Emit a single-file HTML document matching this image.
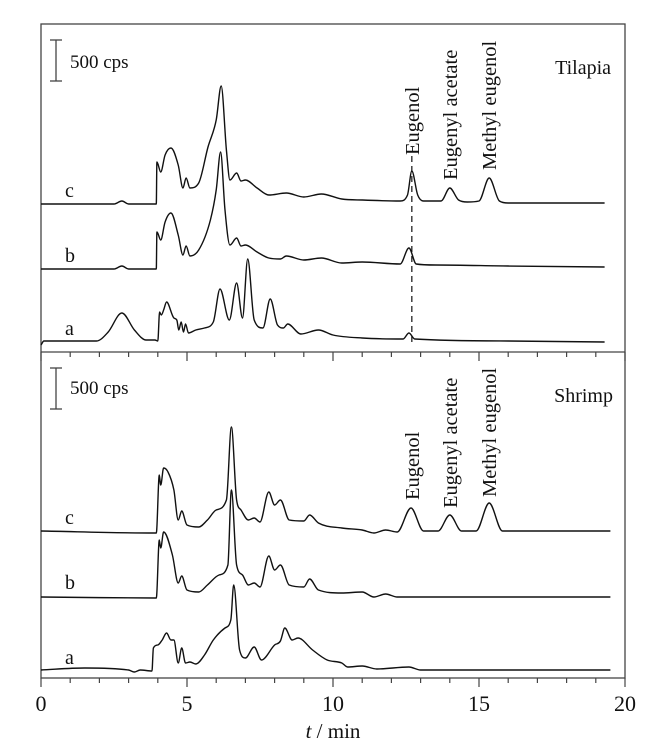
<!DOCTYPE html>
<html><head><meta charset="utf-8"><style>
html,body{margin:0;padding:0;background:#fff;}
svg{display:block;font-family:"Liberation Serif",serif;}
</style></head><body>
<svg id="chart" width="666" height="740" viewBox="0 0 666 740">
<g id="frame"></g>
<g id="traces"></g>
<g id="labels"></g>
</svg>
<script>
// time axis
const xTicksMajor = [0, 5, 10, 15, 20];
// Tilapia panel series (time in min, signal height in px-units; 41 units = 500 cps)
const tilC_t = [0,2.5,2.77,3.0,3.95,3.97,4.1,4.25,4.45,4.7,4.86,4.97,5.1,5.4,5.72,6.0,6.17,6.35,6.47,6.7,6.85,7.0,7.4,7.8,8.4,9.0,9.6,10.3,11,12.3,12.55,12.7,12.9,13.1,13.7,14.0,14.3,14.6,15.0,15.35,15.7,16,19.3];
const tilC_v = [0,0,3,0,0,42,32,49,56,39,16,26,16,21,57,84,118,54,24,31,23,24,16,9,11,7,10,5,4,3,9,33,9,3,3,16,4,2,3,26,3,1,1];
const tilB_t = [0,2.5,2.77,3.0,3.95,3.97,4.1,4.25,4.45,4.7,4.86,4.97,5.1,5.4,5.8,6.0,6.15,6.3,6.47,6.7,6.85,7.0,7.4,7.8,8.2,8.4,9.0,9.6,10.3,11,12.3,12.6,12.85,13.5,16,19.3];
const tilB_v = [0,0,3,0,0,37,29,47,56,34,14,23,13,19,49,79,117,59,24,31,23,24,17,11,10,13,9,11,6,7,5,21,5,4,3,2];
const tilA_t = [0,0.1,1.9,2.3,2.77,3.2,3.6,3.9,4.0,4.06,4.12,4.2,4.3,4.55,4.65,4.72,4.8,4.88,4.95,5.05,5.3,5.6,5.9,6.13,6.45,6.7,6.9,7.08,7.3,7.6,7.85,8.1,8.3,8.45,8.9,9.5,10.0,11,12.4,12.6,12.8,16,19.3];
const tilA_v = [-4,0,0,9,28,11,1,1,0,29,26,31,39,23,21,11,19,9,17,8,11,13,19,52,21,58,23,82,21,13,42,16,13,17,7,11,6,3,2,8,2,0,-1];
// Shrimp panel series
const shrC_t = [0,3.9,3.95,4.05,4.1,4.2,4.35,4.55,4.7,4.82,5.0,5.4,5.7,6.0,6.35,6.52,6.7,6.85,7.1,7.3,7.5,7.8,8.0,8.2,8.5,9.0,9.2,9.5,10.3,11,11.4,11.8,12.2,12.67,13.1,13.6,14.0,14.4,14.9,15.35,15.8,19.5];
const shrC_v = [1,-1,-1,57,47,64,60,42,12,21,7,5,12,22,32,105,32,22,12,14,10,40,27,32,12,11,17,9,4,2,-1,2,0,24,1,1,17,1,1,29,1,1];
const shrB_t = [0,3.9,3.95,4.05,4.1,4.2,4.5,4.7,4.82,5.0,5.4,5.7,6.1,6.4,6.52,6.7,6.9,7.1,7.3,7.5,7.8,8.0,8.2,8.5,9.0,9.2,9.5,10.3,11,11.4,11.8,12.2,19.5];
const shrB_v = [0,-1,-1,57,49,65,42,14,21,7,5,12,22,32,107,32,22,12,14,10,41,27,32,12,10,18,7,4,5,0,3,0,0];
const shrA_t = [0,1.5,3.0,3.2,3.4,3.8,3.85,4.0,4.15,4.3,4.45,4.55,4.7,4.82,4.95,5.1,5.3,5.6,5.9,6.3,6.5,6.6,6.8,7.0,7.3,7.55,8.0,8.2,8.35,8.6,8.8,9.3,9.8,10.3,10.5,11,11.5,12.6,13,19.5];
const shrA_v = [0,2,0,-2,0,-1,22,25,30,37,30,30,7,22,7,8,6,15,30,42,50,85,20,12,23,10,25,29,42,30,32,20,10,7,3,4,1,3,0,0];
const compoundNames = ["Eugenol","Eugenyl acetate","Methyl eugenol"];
const compoundTimes = [12.7,14.0,15.35];

const NS="http://www.w3.org/2000/svg";
const X0=41, X1=625;
const xs = t => X0 + (X1-X0)*t/20;
const ys = (base,v) => base - v; // 41 units = 500 cps
function el(tag, attrs, parent){const e=document.createElementNS(NS,tag);for(const k in attrs)e.setAttribute(k,attrs[k]);parent.appendChild(e);return e;}
const frame=document.getElementById('frame'), traces=document.getElementById('traces'), labels=document.getElementById('labels');

let r=el('rect',{x:X0,y:24,width:X1-X0,height:654,fill:'none',stroke:'#444','stroke-width':1.3},frame);


let d=el('line',{x1:X0,x2:X1,y1:352,y2:352,stroke:'#444','stroke-width':1.3},frame);


for(let t=0;t<=20;t++){
  const major = t%5===0;
  const len = major?9:5;
  let a=el('line',{x1:xs(t),x2:xs(t),y1:352,y2:352+len,stroke:'#444','stroke-width':1.2},frame);
  
  
  let b=el('line',{x1:xs(t),x2:xs(t),y1:678,y2:678+len,stroke:'#444','stroke-width':1.2},frame);
  
  
}
xTicksMajor.forEach(t=>{
  let tx=el('text',{x:xs(t),y:711,'font-size':22,'text-anchor':'middle',fill:'#111'},labels);
  tx.textContent=t;
  
  
});
let xt=el('text',{x:(X0+X1)/2,y:738,'font-size':21,'text-anchor':'middle',fill:'#111'},labels);
xt.innerHTML='<tspan font-style="italic">t</tspan> / min';



// monotone cubic path (no overshoot)
function monoPath(px,py){
  const n=px.length, dx=[], m=[], s=[];
  for(let i=0;i<n-1;i++){dx[i]=px[i+1]-px[i]; s[i]=dx[i]>0?(py[i+1]-py[i])/dx[i]:0;}
  m[0]=s[0]; m[n-1]=s[n-2];
  for(let i=1;i<n-1;i++){ m[i]=(s[i-1]*s[i]<=0)?0:(s[i-1]+s[i])/2; }
  for(let i=0;i<n-1;i++){
    if(s[i]===0){m[i]=0;m[i+1]=0;continue;}
    const a=m[i]/s[i], b=m[i+1]/s[i], h=a*a+b*b;
    if(h>9){const t=3/Math.sqrt(h); m[i]=t*a*s[i]; m[i+1]=t*b*s[i];}
  }
  let p='M'+px[0].toFixed(1)+','+py[0].toFixed(1);
  for(let i=0;i<n-1;i++){
    const h=dx[i]/3;
    p+='C'+(px[i]+h).toFixed(1)+','+(py[i]+m[i]*h).toFixed(1)+' '+(px[i+1]-h).toFixed(1)+','+(py[i+1]-m[i+1]*h).toFixed(1)+' '+px[i+1].toFixed(1)+','+py[i+1].toFixed(1);
  }
  return p;
}
function trace(ts,vs,base,name){
  const px=ts.map(xs), py=vs.map(v=>ys(base,v));
  let e=el('path',{d:monoPath(px,py),fill:'none',stroke:'#111','stroke-width':1.4,'stroke-linejoin':'round'},traces);
  
  
}
trace(tilC_t,tilC_v,204,'tilapia-trace-c');
trace(tilB_t,tilB_v,269,'tilapia-trace-b');
trace(tilA_t,tilA_v,341,'tilapia-trace-a');
trace(shrC_t,shrC_v,532,'shrimp-trace-c');
trace(shrB_t,shrB_v,597,'shrimp-trace-b');
trace(shrA_t,shrA_v,670,'shrimp-trace-a');

function txt(x,y,s,size,name,anchor,rot){
  const a={x:x,y:y,'font-size':size,fill:'#111','text-anchor':anchor||'start'};
  if(rot)a.transform='rotate(-90 '+x+' '+y+')';
  let e=el('text',a,labels);e.textContent=s;
  
  
}
txt(65,197,'c',20,'trace-label-c');txt(65,262,'b',20,'trace-label-b');txt(65,335,'a',20,'trace-label-a');
txt(65,524,'c',20,'trace-label-c');txt(65,589,'b',20,'trace-label-b');txt(65,664,'a',20,'trace-label-a');
function scaleBar(y0,ty){
  const g=el('g',{stroke:'#444','stroke-width':1.3},frame);
  
  
  el('line',{x1:56,x2:56,y1:y0,y2:y0+41},g);
  el('line',{x1:50,x2:62,y1:y0,y2:y0},g);
  el('line',{x1:50,x2:62,y1:y0+41,y2:y0+41},g);
  txt(70,ty,'500 cps',19,'scale-bar-label');
}
scaleBar(40,68);scaleBar(368,394);
txt(611,74,'Tilapia',20,'panel-title-tilapia','end');
txt(613,402,'Shrimp',20,'panel-title-shrimp','end');
const topEnds=[155,180,170], botEnds=[500,508,497];
compoundTimes.forEach((t,i)=>{
  txt(xs(t)+7,topEnds[i],compoundNames[i],20.5,'compound-label','start',true);
  txt(xs(t)+7,botEnds[i],compoundNames[i],20.5,'compound-label','start',true);
});
let dl=el('line',{x1:xs(compoundTimes[0]),x2:xs(compoundTimes[0]),y1:156,y2:345,stroke:'#111','stroke-width':1.2,'stroke-dasharray':'6,4'},traces);


</script>
</body></html>
